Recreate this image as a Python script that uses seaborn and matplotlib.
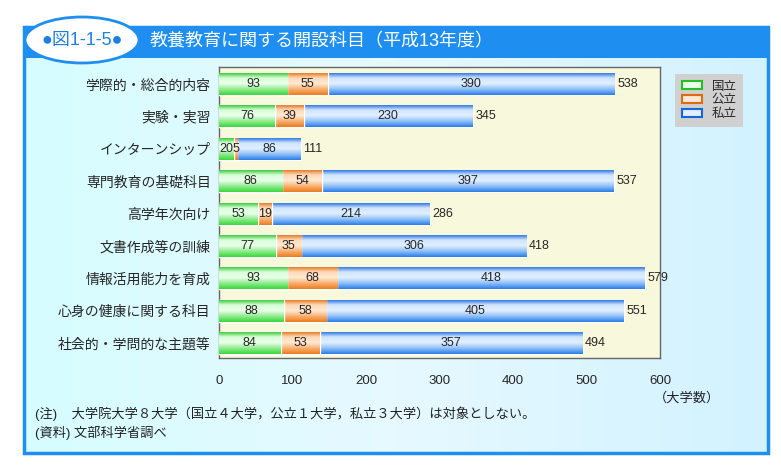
import numpy as np
import pandas as pd
import matplotlib
matplotlib.use('Agg')
import matplotlib.pyplot as plt
import seaborn as sns
from matplotlib.patches import Rectangle, Ellipse, Patch
from matplotlib.colors import LinearSegmentedColormap

# ==================== DATA ====================
categories = ['学際的・総合的内容', '実験・実習', 'インターンシップ', '専門教育の基礎科目',
              '高学年次向け', '文書作成等の訓練', '情報活用能力を育成',
              '心身の健康に関する科目', '社会的・学問的な主題等']
national = [93, 76, 20, 86, 53, 77, 93, 88, 84]
public = [55, 39, 5, 54, 19, 35, 68, 58, 53]
private = [390, 230, 86, 397, 214, 306, 418, 405, 357]
series_names = ['国立', '公立', '私立']
x_ticks = [0, 100, 200, 300, 400, 500, 600]

title = '教養教育に関する開設科目（平成13年度）'
fig_label = '●図1-1-5●'
note1 = '(注)    大学院大学８大学（国立４大学，公立１大学，私立３大学）は対象としない。'
note2 = '(資料) 文部科学省調べ'

df = pd.DataFrame({'cat': categories, 'national': national,
                   'public': public, 'private': private})
df['total'] = df['national'] + df['public'] + df['private']
df['np'] = df['national'] + df['public']

# ==================== STYLE ====================
sns.set_theme(style='white')
plt.rcParams['font.family'] = ['Liberation Sans', 'Noto Sans CJK JP', 'DejaVu Sans']

W, H = 781, 466
fig = plt.figure(figsize=(W / 100, H / 100), dpi=100)

# background layer in pixel coordinates
bg = fig.add_axes([0, 0, 1, 1], zorder=-10)
bg.set_xlim(0, W)
bg.set_ylim(H, 0)
bg.axis('off')
cyan = LinearSegmentedColormap.from_list('cy', ['#d6fdff', '#e6f9ff', '#d2f2ff'])
grad = np.linspace(0, 1, 256).reshape(1, -1)
bg.imshow(grad, extent=(24, 768, 453, 58), cmap=cyan, aspect='auto', zorder=0)
bg.add_patch(Rectangle((24, 27), 744, 426, fill=False, edgecolor='#1e8ff0', lw=2.5, zorder=2))
bg.add_patch(Rectangle((24, 27), 744, 31, facecolor='#1e8ff0', edgecolor='none', zorder=1))
bg.add_patch(Ellipse((82, 40), 114, 46, facecolor='white', edgecolor='#1e8ff0', lw=2, zorder=3))
bg.text(82, 41, fig_label, color='#1e7fe0', fontsize=13, ha='center', va='center',
        zorder=4)
bg.text(150, 42, title, color='white', fontsize=13, ha='left', va='center', zorder=4)
bg.text(35, 414, note1, fontsize=9.5, ha='left', va='center', color='#222222')
bg.text(35, 433, note2, fontsize=9.5, ha='left', va='center', color='#222222')
bg.text(654, 398, '（大学数）', fontsize=9.5, ha='left', va='center', color='#222222')

# ==================== CHART ====================
ax = fig.add_axes([219 / W, 1 - 358 / H, (660 - 219) / W, (358 - 67) / H])
ax.set_facecolor('#f8f8dc')

colors = {
    'private': ['#1567dc', '#cfe4ff', '#e2efff', '#8fc0f8', '#2a7ee8'],
    'public': ['#e06a10', '#ffd9b5', '#ffe9d4', '#f8b070', '#ec7c20'],
    'national': ['#22c022', '#d5ffd5', '#ecffec', '#90ec90', '#3ad83a'],
}
layers = [('total', 'private'), ('np', 'public'), ('national', 'national')]

for i, (col, key) in enumerate(layers):
    n_before = len(ax.patches)
    sns.barplot(data=df, x=col, y='cat', orient='h', color=colors[key][0],
                width=0.68, ax=ax, zorder=2 + i * 2)
    cmap = LinearSegmentedColormap.from_list(key, colors[key])
    vgrad = np.linspace(0, 1, 64).reshape(-1, 1)
    for p in ax.patches[n_before:]:
        p.set_zorder(2 + i * 2)
        x0, y0, w, h = p.get_x(), p.get_y(), p.get_width(), p.get_height()
        im = ax.imshow(vgrad, extent=(x0, x0 + w, y0 + h, y0), origin='upper',
                       cmap=cmap, aspect='auto', zorder=2.5 + i * 2)
        im.set_clip_path(p)

# value labels
for yi, row in df.iterrows():
    ax.text(row['national'] / 2, yi, str(row['national']), ha='center', va='center',
            fontsize=9, zorder=10)
    ax.text(row['national'] + row['public'] / 2, yi, str(row['public']), ha='center',
            va='center', fontsize=9, zorder=10)
    ax.text(row['np'] + row['private'] / 2, yi, str(row['private']), ha='center',
            va='center', fontsize=9, zorder=10)
    ax.text(row['total'] + 4, yi, str(row['total']), ha='left', va='center',
            fontsize=9, zorder=10)

ax.set_xlim(0, 600)
ax.set_ylim(8.46, -0.525)
ax.set_xticks(x_ticks)
ax.set_xticklabels([str(t) for t in x_ticks], fontsize=9.5)
ax.tick_params(axis='x', direction='in', length=4, pad=12, color='#555555')
ax.tick_params(axis='y', length=0, pad=6, labelsize=10)
ax.set_xlabel('')
ax.set_ylabel('')
for s in ax.spines.values():
    s.set_color('#666666')
    s.set_linewidth(1)

handles = [Patch(facecolor=colors[k][2], edgecolor=colors[k][0], lw=1.5)
           for k in ['national', 'public', 'private']]
leg = fig.legend(handles, series_names, loc='upper left',
                 bbox_to_anchor=(669 / W, 1 - 68 / H), frameon=True, fancybox=False,
                 facecolor='#d0d0d0', edgecolor='none', fontsize=9,
                 handlelength=1.6, handleheight=0.6, labelspacing=0.15,
                 borderpad=0.5, handletextpad=0.8, framealpha=1)

fig.savefig('out.png', dpi=100)
